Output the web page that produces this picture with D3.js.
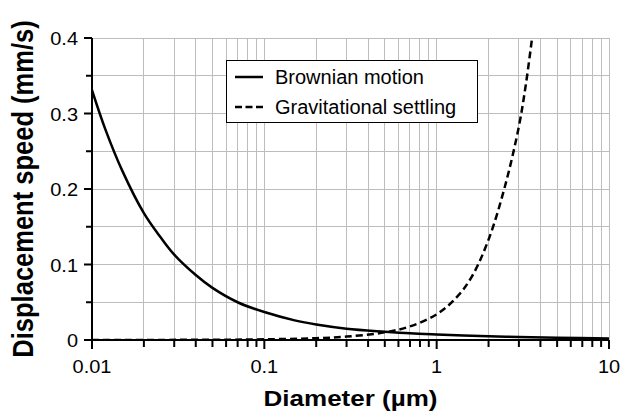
<!DOCTYPE html>
<html lang="en">
<head>
<meta charset="UTF-8">
<script src="https://d3js.org/d3.v7.min.js"></script>
<style>
  body { margin: 0; background: #fff; }
  text { font-family: "Liberation Sans", Arial, sans-serif; fill: #000; }
</style>
</head>
<body>
<svg width="622" height="413"></svg>
<script>
// values (speed in mm/s, diameter in um)
var brownianDiameter = [0.01, 0.012, 0.015, 0.02, 0.025, 0.03, 0.04, 0.05, 0.07, 0.1, 0.15, 0.2, 0.3, 0.5, 0.7, 1, 2, 3, 5, 10];
var brownianSpeed    = [0.331, 0.278, 0.224, 0.168, 0.136, 0.113, 0.086, 0.069, 0.050, 0.037, 0.026, 0.0205, 0.015, 0.011, 0.0088, 0.0073, 0.0049, 0.0039, 0.003, 0.0021];
var settlingDiameter = [0.01, 0.05, 0.1, 0.2, 0.3, 0.5, 0.7, 1, 1.3, 1.6, 2, 2.5, 3, 3.3, 3.6];
var settlingSpeed    = [0.0001, 0.0003, 0.0009, 0.0024, 0.0045, 0.0101, 0.018, 0.034, 0.056, 0.084, 0.133, 0.205, 0.283, 0.34, 0.405];

var seriesNames = ["Brownian motion", "Gravitational settling"];
var xTickValues = [0.01, 0.1, 1, 10];
var xTickLabels = ["0.01", "0.1", "1", "10"];
var yTickValues = [0, 0.1, 0.2, 0.3, 0.4];
var yTickLabels = ["0", "0.1", "0.2", "0.3", "0.4"];
var yMinorValues = [0.05, 0.15, 0.25, 0.35];

var svg = d3.select("svg"),
    margin = {top: 38, right: 13, bottom: 73, left: 92},
    width = +svg.attr("width") - margin.left - margin.right,
    height = +svg.attr("height") - margin.top - margin.bottom;

var g = svg.append("g")
    .attr("transform", "translate(" + margin.left + "," + margin.top + ")");

var x = d3.scaleLog().domain([0.01, 10]).range([0, width]);
var y = d3.scaleLinear().domain([0, 0.4]).range([height, 0]);

// minor x positions 2..9 in each decade
var xMinorValues = [];
[0.01, 0.1, 1].forEach(function(dec) {
    for (var k = 2; k <= 9; k++) xMinorValues.push(+(dec * k).toPrecision(3));
});

// grid
var grid = g.append("g").attr("stroke", "#bdbdbd").attr("stroke-width", 1).attr("shape-rendering", "crispEdges");
grid.selectAll(".vg").data(xMinorValues.concat(xTickValues)).enter().append("line")
    .attr("x1", function(d) { return x(d); }).attr("x2", function(d) { return x(d); })
    .attr("y1", 0).attr("y2", height);
grid.selectAll(".hg").data(yTickValues.concat(yMinorValues)).enter().append("line")
    .attr("x1", 0).attr("x2", width)
    .attr("y1", function(d) { return y(d); }).attr("y2", function(d) { return y(d); });

// ticks
var ticks = g.append("g").attr("stroke", "#000").attr("stroke-width", 2);
ticks.selectAll(".ym").data(yTickValues).enter().append("line")
    .attr("x1", -8).attr("x2", 0)
    .attr("y1", function(d) { return y(d); }).attr("y2", function(d) { return y(d); });
ticks.selectAll(".yn").data(yMinorValues).enter().append("line")
    .attr("x1", -6).attr("x2", 0)
    .attr("y1", function(d) { return y(d); }).attr("y2", function(d) { return y(d); });
ticks.selectAll(".xm").data(xTickValues).enter().append("line")
    .attr("x1", function(d) { return x(d); }).attr("x2", function(d) { return x(d); })
    .attr("y1", height).attr("y2", height + 9);
ticks.selectAll(".xn").data(xMinorValues).enter().append("line")
    .attr("x1", function(d) { return x(d); }).attr("x2", function(d) { return x(d); })
    .attr("y1", height).attr("y2", height + 7);

// axis lines
g.append("line").attr("x1", 0).attr("x2", 0).attr("y1", 0).attr("y2", height + 1)
    .attr("stroke", "#000").attr("stroke-width", 2);
g.append("line").attr("x1", -1).attr("x2", width).attr("y1", height).attr("y2", height)
    .attr("stroke", "#000").attr("stroke-width", 2);

// tick labels
g.selectAll(".ylab").data(yTickValues).enter().append("text")
    .attr("transform", function(d) { return "translate(-14," + (y(d) + 7) + ") scale(1,0.9)"; })
    .attr("text-anchor", "end").style("font-size", "20px")
    .text(function(d, i) { return yTickLabels[i]; });
g.selectAll(".xlab").data(xTickValues).enter().append("text")
    .attr("transform", function(d) { return "translate(" + x(d) + "," + (height + 33) + ") scale(1,0.9)"; })
    .attr("text-anchor", "middle").style("font-size", "20px")
    .text(function(d, i) { return xTickLabels[i]; });

// axis titles
svg.append("text")
    .attr("transform", "translate(" + (margin.left + width / 2) + ",406) scale(1,0.85)")
    .attr("text-anchor", "middle").style("font-size", "26px").style("font-weight", "bold")
    .text("Diameter (\u00b5m)");
svg.append("text")
    .attr("transform", "translate(33," + (margin.top + height / 2) + ") scale(1,0.88) rotate(-90)")
    .attr("text-anchor", "middle").style("font-size", "29px").style("font-weight", "bold")
    .text("Displacement speed (mm/s)");

// curves
g.append("clipPath").attr("id", "clip").append("rect")
    .attr("x", 0).attr("y", 0).attr("width", width).attr("height", height);

var line = d3.line()
    .x(function(d) { return x(d[0]); })
    .y(function(d) { return y(d[1]); })
    .curve(d3.curveCatmullRom.alpha(0.5));

var brownian = brownianDiameter.map(function(d, i) { return [d, brownianSpeed[i]]; });
var settling = settlingDiameter.map(function(d, i) { return [d, settlingSpeed[i]]; });

var curves = g.append("g").attr("clip-path", "url(#clip)");
curves.append("path").datum(settling).attr("d", line)
    .attr("fill", "none").attr("stroke", "#000").attr("stroke-width", 2.5)
    .attr("stroke-dasharray", "7,4");
curves.append("path").datum(brownian).attr("d", line)
    .attr("fill", "none").attr("stroke", "#000").attr("stroke-width", 2.5);

// legend
var legend = svg.append("g").attr("transform", "translate(226,60)");
legend.append("rect").attr("x", 0.5).attr("y", 0.5).attr("width", 251).attr("height", 62)
    .attr("fill", "#fff").attr("stroke", "#000").attr("stroke-width", 1);
seriesNames.forEach(function(name, i) {
    var ly = 17 + i * 30;
    legend.append("line").attr("x1", 9).attr("x2", 37).attr("y1", ly).attr("y2", ly)
        .attr("stroke", "#000").attr("stroke-width", 2.5)
        .attr("stroke-dasharray", i === 1 ? "7,3.5" : null);
    legend.append("text").attr("x", 49).attr("y", ly + 7)
        .style("font-size", "20px").text(name);
});
</script>
</body>
</html>
